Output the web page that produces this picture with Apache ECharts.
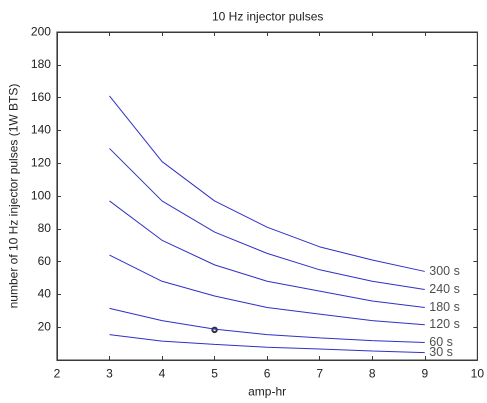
<!DOCTYPE html>
<html>
<head>
<meta charset="utf-8">
<script src="https://cdn.jsdelivr.net/npm/echarts@6/dist/echarts.min.js"></script>
<style>html,body{margin:0;padding:0;background:#fff}#c{width:487px;height:403px}</style>
</head>
<body>
<div id="c"></div>
<script>
const ampHr = [3, 4, 5, 6, 7, 8, 9];
const s300 = [161, 121, 97, 81, 69, 61, 54];
const s240 = [129, 97, 78, 65, 55, 48, 43];
const s180 = [97, 73, 58, 48, 42, 36, 32];
const s120 = [64, 48, 39, 32, 28, 24, 21.5];
const s60 = [31.5, 24, 18.8, 15.5, 13.5, 11.8, 10.7];
const s30 = [15.5, 11.5, 9.5, 7.8, 6.7, 5.5, 4.5];
const seriesNames = ['300 s', '240 s', '180 s', '120 s', '60 s', '30 s'];
const seriesValues = [s300, s240, s180, s120, s60, s30];
const markerPoint = [[5, 18.4]];
const xMin = 2, xMax = 10, yMin = 0, yMax = 200;

const font = 'Liberation Sans, Arial, sans-serif';
const axisColor = '#3a3a3a';
const textColor = '#222';
const lineColor = '#3030c8';

const chart = echarts.init(document.getElementById('c'), null, { devicePixelRatio: 2, useDirtyRect: false });

const lineSeries = seriesNames.map((n, i) => ({
  type: 'line',
  data: ampHr.map((x, j) => [x, seriesValues[i][j]]),
  showSymbol: false,
  lineStyle: { color: lineColor, width: 1 },
  itemStyle: { color: lineColor }
}));
// frame on top and right edges of the plot box
lineSeries[0].markLine = {
  silent: true, symbol: 'none', animation: false,
  label: { show: false },
  lineStyle: { type: 'solid', color: axisColor, width: 1 },
  emphasis: { disabled: true },
  data: [{ yAxis: yMax }, { xAxis: xMax }]
};

chart.setOption({
  animation: false,
  title: { text: '10 Hz injector pulses', left: 207, top: 6,
    textStyle: { color: textColor, fontFamily: font, fontSize: 12, fontWeight: 'normal' } },
  grid: { left: 53, top: 32, right: 6, bottom: 36, show: true, borderColor: axisColor, borderWidth: 1 },
  xAxis: [
    { type: 'value', min: xMin, max: xMax, interval: 1,
      name: 'amp-hr', nameLocation: 'middle', nameGap: 26,
      nameTextStyle: { color: textColor, fontFamily: font, fontSize: 12 },
      axisLine: { lineStyle: { color: axisColor } },
      axisTick: { inside: true, length: 4, lineStyle: { color: axisColor } },
      axisLabel: { color: textColor, fontFamily: font, fontSize: 12, margin: 8 },
      splitLine: { show: false } },
    { type: 'value', min: xMin, max: xMax, interval: 1, position: 'top',
      axisLine: { onZero: false, lineStyle: { color: axisColor } },
      axisTick: { inside: true, length: 4, lineStyle: { color: axisColor } },
      axisLabel: { show: false },
      splitLine: { show: false } }
  ],
  yAxis: [
    { type: 'value', min: yMin, max: yMax, interval: 20,
      name: 'number of 10 Hz injector pulses (1W BTS)', nameLocation: 'middle', nameGap: 34,
      nameTextStyle: { color: textColor, fontFamily: font, fontSize: 12 },
      axisLine: { show: true, lineStyle: { color: axisColor } },
      axisTick: { show: true, inside: true, length: 4, lineStyle: { color: axisColor } },
      axisLabel: { color: textColor, fontFamily: font, fontSize: 12, margin: 6,
        formatter: v => (v === 0 ? '' : String(v)) },
      splitLine: { show: false } },
    { type: 'value', min: yMin, max: yMax, interval: 20, position: 'right',
      axisLine: { show: true, onZero: false, lineStyle: { color: axisColor } },
      axisTick: { show: true, inside: true, length: 4, lineStyle: { color: axisColor } },
      axisLabel: { show: false },
      splitLine: { show: false } }
  ],
  series: lineSeries.concat([
    { type: 'scatter',
      data: seriesNames.map((n, i) => ({ value: [ampHr[ampHr.length - 1], seriesValues[i][ampHr.length - 1]], name: n })),
      symbolSize: 1, itemStyle: { color: 'rgba(255,255,255,0)' },
      label: { show: true, position: 'right', distance: 4, formatter: p => p.name,
        color: textColor, fontFamily: font, fontSize: 12.5 } },
    { type: 'scatter', data: markerPoint, symbol: 'emptyCircle', symbolSize: 4.5,
      itemStyle: { color: '#000', borderColor: '#000', borderWidth: 1 } },
    { type: 'line', xAxisIndex: 1, yAxisIndex: 1, data: [[xMin, yMin]], showSymbol: false,
      lineStyle: { opacity: 0 } }
  ])
});
</script>
</body>
</html>
